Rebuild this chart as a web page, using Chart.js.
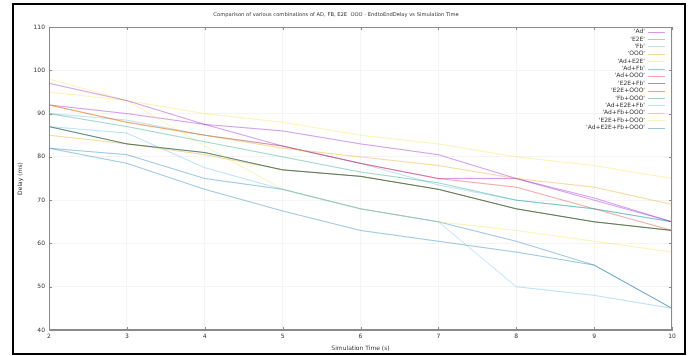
<!DOCTYPE html>
<html>
<head>
<meta charset="utf-8">
<script src="https://cdn.jsdelivr.net/npm/chart.js@4.4.1/dist/chart.umd.min.js"></script>
<style>
  body { margin: 0; background: #fff; }
  #wrap { position: relative; width: 691px; height: 356px; }
  #frame { position: absolute; left: 12px; top: 3px; width: 670px; height: 348px; border: 2px solid #000; pointer-events: none; }
</style>
</head>
<body>
<div id="wrap">
  <canvas id="delayChart" width="691" height="356"></canvas>
  <div id="frame"></div>
</div>
<script>
  // Thoi gian mo phong (s)
  const simTime = [2, 3, 4, 5, 6, 7, 8, 9, 10];

  // Do tre EndtoEnd (ms) cua tung to hop
  const ad          = [97, 93, 87.5, 86, 83, 80.5, 75, 70, 65];
  const e2e         = [90, 87, 83.5, 80, 76.5, 74, 70, 68, 65];
  const fb          = [87, 85.5, 77.5, 72.5, 68, 65, 50, 48, 45];
  const ooo         = [92, 88, 85, 82, 80, 78, 75, 73, 69];
  const adE2e       = [98, 93, 82.5, 72.5, 68, 65, 63, 60.5, 58];
  const adFb        = [82, 80.5, 75, 72.5, 68, 65, 60.5, 55, 45];
  const adOoo       = [92, 88, 85, 82.5, 78.5, 75, 73, 68, 63];
  const e2eFb       = [87, 83, 81, 77, 75.5, 72.5, 68, 65, 63];
  const e2eOoo      = [92, 90, 87.5, 82.5, 78.5, 75, 75, 70.5, 65];
  const fbOoo       = [87, 83, 81, 77, 75.5, 72.5, 68, 65, 63];
  const adE2eFb     = [90, 88.5, 85, 82.5, 78.5, 73.5, 70, 68, 65];
  const adFbOoo     = [85, 83, 80.5, 77, 75.5, 72.5, 68, 65, 63];
  const e2eFbOoo    = [95, 93, 90, 88, 85, 83, 80, 78, 75];
  const adE2eFbOoo  = [82, 78.5, 72.5, 67.5, 63, 60.5, 58, 55, 45];

  const seriesNames = ["'Ad'", "'E2E'", "'Fb'", "'OOO'", "'Ad+E2E'", "'Ad+Fb'", "'Ad+OOO'",
    "'E2E+Fb'", "'E2E+OOO'", "'Fb+OOO'", "'Ad+E2E+Fb'", "'Ad+Fb+OOO'", "'E2E+Fb+OOO'", "'Ad+E2E+Fb+OOO'"];
  const seriesValues = [ad, e2e, fb, ooo, adE2e, adFb, adOoo, e2eFb, e2eOoo, fbOoo,
    adE2eFb, adFbOoo, e2eFbOoo, adE2eFbOoo];

  // mau mac dinh cua gnuplot, lam nhat bang alpha
  const palette = [
    'rgba(148, 0, 211, 0.4)',
    'rgba(0, 158, 115, 0.4)',
    'rgba(86, 180, 233, 0.4)',
    'rgba(230, 159, 0, 0.4)',
    'rgba(240, 228, 66, 0.4)',
    'rgba(0, 114, 178, 0.4)',
    'rgba(229, 30, 16, 0.4)',
    'rgba(0, 0, 0, 0.4)',
  ];

  const FONT = '"DejaVu Sans", sans-serif';

  // khung o (vien tren/phai) va vach chia huong vao trong
  const plotBorder = {
    id: 'plotBorder',
    afterDraw(chart) {
      const { ctx, chartArea: a, scales: { x, y } } = chart;
      ctx.save();
      ctx.strokeStyle = '#8a8a8a';
      ctx.lineWidth = 1;
      ctx.strokeRect(a.left + 0.5, a.top + 0.5, a.right - a.left - 1, a.bottom - a.top - 1);
      ctx.beginPath();
      x.ticks.forEach((t, i) => {
        const px = Math.round(x.getPixelForTick(i)) + 0.5;
        ctx.moveTo(px, a.bottom); ctx.lineTo(px, a.bottom - 3);
        ctx.moveTo(px, a.top); ctx.lineTo(px, a.top + 3);
      });
      y.ticks.forEach((t, i) => {
        const py = Math.round(y.getPixelForTick(i)) + 0.5;
        ctx.moveTo(a.left, py); ctx.lineTo(a.left + 3, py);
        ctx.moveTo(a.right, py); ctx.lineTo(a.right - 3, py);
      });
      ctx.stroke();
      ctx.restore();
    }
  };

  // chu giai kieu gnuplot: chu can phai, mau duong ben phai
  const keyBox = {
    id: 'keyBox',
    afterDraw(chart) {
      const ctx = chart.ctx;
      const right = chart.chartArea.right;
      ctx.save();
      ctx.font = '6px ' + FONT;
      ctx.textAlign = 'right';
      ctx.textBaseline = 'middle';
      chart.data.datasets.forEach((ds, i) => {
        const yy = 31.7 + i * 7.37;
        ctx.fillStyle = '#333';
        ctx.fillText(ds.label, right - 27, yy);
        ctx.strokeStyle = ds.borderColor;
        ctx.lineWidth = 1;
        ctx.beginPath();
        ctx.moveTo(right - 24, Math.round(yy) + 0.5);
        ctx.lineTo(right - 7, Math.round(yy) + 0.5);
        ctx.stroke();
      });
      ctx.restore();
    }
  };

  const ctx = document.getElementById('delayChart').getContext('2d');
  new Chart(ctx, {
    type: 'line',
    data: {
      labels: simTime,
      datasets: seriesNames.map((name, i) => ({
        label: name,
        data: seriesValues[i],
        borderColor: palette[i % palette.length],
        backgroundColor: palette[i % palette.length],
        borderWidth: 1,
        pointRadius: 0,
        tension: 0,
        fill: false,
      })),
    },
    options: {
      responsive: false,
      animation: false,
      layout: { padding: { left: 0, right: 19, top: 0, bottom: 0 } },
      plugins: {
        legend: { display: false },
        tooltip: { enabled: false },
        title: {
          display: true,
          text: 'Comparison of various combinations of AD, FB, E2E  OOO - EndtoEndDelay vs Simulation Time',
          color: '#333',
          font: { family: FONT, size: 5.2, weight: 'normal' },
          padding: { top: 11.5, bottom: 9.3 },
        },
      },
      scales: {
        x: {
          afterFit: (s) => { s.height = 26; },
          grid: { color: '#f4f4f4', drawTicks: false },
          border: { color: '#8a8a8a' },
          ticks: { color: '#333', padding: 3, font: { family: FONT, size: 6 }, maxRotation: 0 },
          title: {
            display: true,
            text: 'Simulation Time (s)',
            color: '#333',
            font: { family: FONT, size: 6 },
            padding: { top: 0, bottom: 4.4 },
          },
        },
        y: {
          min: 40,
          max: 110,
          afterFit: (s) => { s.width = 49; },
          grid: { color: '#f4f4f4', drawTicks: false },
          border: { color: '#8a8a8a' },
          ticks: { stepSize: 10, color: '#333', padding: 4, font: { family: FONT, size: 6 } },
          title: {
            display: true,
            text: 'Delay (ms)',
            color: '#333',
            font: { family: FONT, size: 6 },
            padding: { top: 17, bottom: 0 },
          },
        },
      },
    },
    plugins: [plotBorder, keyBox],
  });
</script>
</body>
</html>
